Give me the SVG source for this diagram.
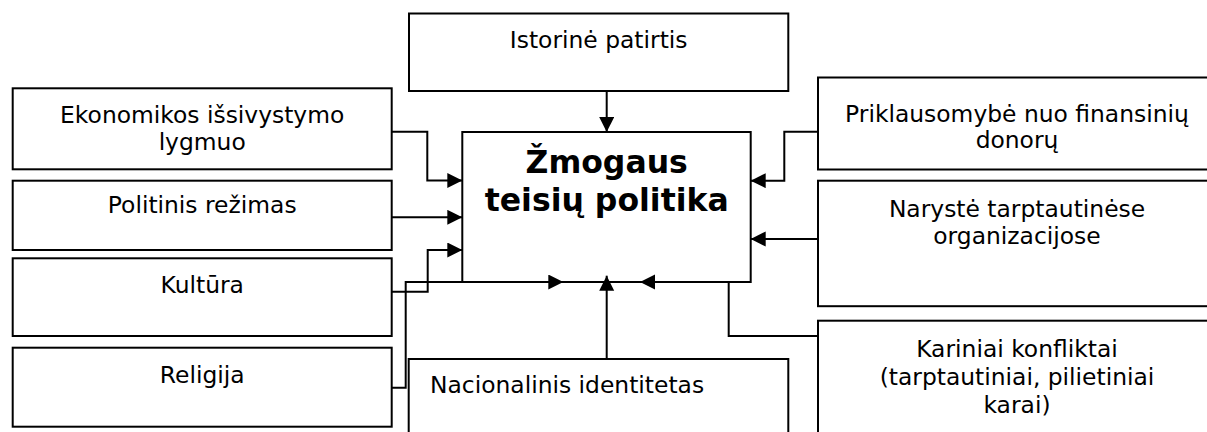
<svg xmlns="http://www.w3.org/2000/svg" width="1207" height="432" viewBox="0 0 1207 432">
  <style>
    .box { fill: #ffffff; stroke: #000000; stroke-width: 2; }
    .lbl { font-family: "DejaVu Sans", Verdana, sans-serif; font-size: 23.4px; fill: #000000; text-anchor: middle; }
    .lbl-left { font-family: "DejaVu Sans", Verdana, sans-serif; font-size: 23.4px; fill: #000000; }
    .title { font-family: "DejaVu Sans", Verdana, sans-serif; font-size: 31.5px; font-weight: bold; fill: #000000; text-anchor: middle; }
    .conn { fill: none; stroke: #000000; stroke-width: 2; marker-end: url(#arrow); }
  </style>
  <defs>
    <marker id="arrow" markerUnits="userSpaceOnUse" markerWidth="16" markerHeight="16" viewBox="0 0 16 16" refX="15" refY="7.5" orient="auto">
      <path d="M0,0 L15,7.5 L0,15 z" fill="#000000"/>
    </marker>
  </defs>
  <rect x="0" y="0" width="1207" height="432" fill="#ffffff"/>

  <g id="connectors">
    <path class="conn" d="M606.7,91 V132"/>
    <path class="conn" d="M391.7,131.7 H427.3 V180.5 H462.3"/>
    <path class="conn" d="M391.7,217.3 H462.3"/>
    <path class="conn" d="M391.7,291.7 H427.7 V250 H462.3"/>
    <path class="conn" d="M391.7,387.7 H405.7 V282 H563.3"/>
    <path class="conn" d="M606.7,359 V275.7"/>
    <path class="conn" d="M818,336 H728.7 V282 H640"/>
    <path class="conn" d="M818,131.7 H784.3 V180.7 H750.7"/>
    <path class="conn" d="M818,239 H750.7"/>
  </g>

  <g id="node-central">
    <rect class="box" x="462.3" y="132" width="288.4" height="150" style="fill:none"/>
    <text class="title" x="606.7" y="173.3">Žmogaus</text>
    <text class="title" x="606.7" y="211">teisių politika</text>
  </g>

  <g id="node-istorine">
    <rect class="box" x="409" y="13.5" width="379.3" height="77.5"/>
    <text class="lbl" x="598.7" y="48">Istorinė patirtis</text>
  </g>

  <g id="node-ekonomikos">
    <rect class="box" x="12.7" y="88.3" width="379" height="81"/>
    <text class="lbl" x="202.2" y="123.3">Ekonomikos išsivystymo</text>
    <text class="lbl" x="202.2" y="150">lygmuo</text>
  </g>

  <g id="node-politinis">
    <rect class="box" x="12.7" y="180.7" width="379" height="69.3"/>
    <text class="lbl" x="202.2" y="213.3">Politinis režimas</text>
  </g>

  <g id="node-kultura">
    <rect class="box" x="12.7" y="258.3" width="379" height="77.7"/>
    <text class="lbl" x="202.2" y="292.5">Kultūra</text>
  </g>

  <g id="node-religija">
    <rect class="box" x="12.7" y="347.7" width="379" height="79"/>
    <text class="lbl" x="202.2" y="383.3">Religija</text>
  </g>

  <g id="node-nacionalinis">
    <rect class="box" x="408.7" y="359" width="379.6" height="100"/>
    <text class="lbl-left" x="430" y="393.3">Nacionalinis identitetas</text>
  </g>

  <g id="node-priklausomybe">
    <rect class="box" x="818" y="77.5" width="398" height="92"/>
    <text class="lbl" x="1017" y="121.5">Priklausomybė nuo finansinių</text>
    <text class="lbl" x="1017" y="148">donorų</text>
  </g>

  <g id="node-naryste">
    <rect class="box" x="818" y="180.7" width="398" height="125.5"/>
    <text class="lbl" x="1017" y="216.7">Narystė tarptautinėse</text>
    <text class="lbl" x="1017" y="244">organizacijose</text>
  </g>

  <g id="node-kariniai">
    <rect class="box" x="818" y="320.7" width="398" height="130"/>
    <text class="lbl" x="1017" y="357.3">Kariniai konfliktai</text>
    <text class="lbl" x="1017" y="385">(tarptautiniai, pilietiniai</text>
    <text class="lbl" x="1017" y="413">karai)</text>
  </g>
</svg>
